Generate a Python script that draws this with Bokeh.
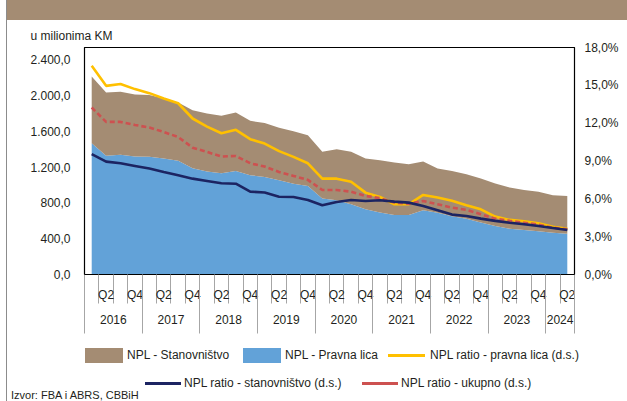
from bokeh.plotting import figure
from bokeh.models import (ColumnDataSource, Range1d, LinearAxis, FixedTicker,
                          Title, Div)
from bokeh.layouts import column
from bokeh.embed import file_html
from bokeh.resources import INLINE

# ---------------- data ----------------
years = ["2016", "2017", "2018", "2019", "2020", "2021", "2022", "2023", "2024"]
quarter_names = ["Q1", "Q2", "Q3", "Q4"]
shown_quarters = ["Q2", "Q4"]

# NPL, million KM (stacked)
pravna_lica = [1468, 1326, 1337, 1318, 1315, 1296, 1270, 1188, 1150, 1132,
               1158, 1110, 1091, 1054, 1013, 990, 848, 830, 785, 729,
               692, 666, 666, 718, 690, 650, 624, 580, 543, 512,
               498, 483, 468, 456]
stanovnistvo = [745, 708, 705, 694, 690, 671, 652, 649, 649, 641,
                652, 607, 601, 585, 589, 567, 523, 570, 586, 567,
                585, 585, 567, 544, 494, 508, 497, 492, 473, 459,
                447, 443, 418, 422]
# NPL ratios, % (right axis)
ratio_pravna = [16.55, 14.96, 15.10, 14.70, 14.38, 13.95, 13.58, 12.37, 11.73, 11.20,
                11.47, 10.73, 10.38, 9.78, 9.33, 8.82, 7.60, 7.60, 7.35, 6.49,
                6.15, 5.57, 5.57, 6.31, 6.10, 5.85, 5.50, 5.17, 4.59, 4.33,
                4.22, 4.06, 3.79, 3.63]
ratio_stan = [9.54, 8.95, 8.82, 8.61, 8.40, 8.13, 7.87, 7.60, 7.42, 7.24,
              7.20, 6.57, 6.50, 6.17, 6.15, 5.91, 5.49, 5.75, 5.91, 5.83,
              5.89, 5.78, 5.70, 5.44, 5.10, 4.75, 4.64, 4.43, 4.25, 4.11,
              3.98, 3.85, 3.69, 3.53]
ratio_ukupno = [13.24, 12.10, 12.10, 11.86, 11.65, 11.30, 10.90, 10.06, 9.72, 9.35,
                9.40, 8.82, 8.56, 8.13, 7.82, 7.50, 6.70, 6.70, 6.57, 6.23,
                6.05, 5.70, 5.62, 5.83, 5.57, 5.30, 5.12, 4.78, 4.43, 4.25,
                4.11, 3.95, 3.71, 3.58]

left_ticks = [0, 400, 800, 1200, 1600, 2000, 2400]
right_ticks = [0, 3, 6, 9, 12, 15, 18]

legend_labels = ["NPL - Stanovništvo", "NPL - Pravna lica",
                 "NPL ratio - pravna lica (d.s.)",
                 "NPL ratio - stanovništvo (d.s.)", "NPL ratio - ukupno (d.s.)"]
source_note = "Izvor: FBA i ABRS, CBBiH"

# ---------------- derived ----------------
n = len(pravna_lica)
periods = [(y, q) for y in years for q in quarter_names][:n]
xs = [i + 0.5 for i in range(n)]

source = ColumnDataSource(dict(x=xs, pravna=pravna_lica, stan=stanovnistvo,
                               rp=ratio_pravna, rs=ratio_stan, ru=ratio_ukupno))

FONT = "Liberation Sans"
TXT = "#231f20"
BROWN = "#a48c73"
BLUE = "#62a2d8"
YELLOW = "#ffc000"
NAVY = "#1c2462"
RED = "#cd5150"
SEP = "#a6a6a6"
FRAME_LINE = "#8c8c8c"

def fmt_left(v):
    s = f"{v:,.1f}"
    return s.replace(",", "X").replace(".", ",").replace("X", ".")

p = figure(width=620, height=316, x_range=Range1d(0, n), y_range=Range1d(0, 2537),
           output_backend="svg", toolbar_location=None, x_axis_location=None,
           min_border_left=77, min_border_right=53, min_border_top=27,
           min_border_bottom=62)
p.extra_y_ranges = {"pct": Range1d(0, 18)}
p.grid.visible = False
p.outline_line_color = "black"
p.outline_line_width = 1.2
p.margin = 0

# areas
areas = p.varea_stack(["pravna", "stan"], x="x", color=[BLUE, BROWN], source=source)
# ratio lines
l_rp = p.line("x", "rp", source=source, y_range_name="pct", color=YELLOW, line_width=2.6)
l_ru = p.line("x", "ru", source=source, y_range_name="pct", color=RED, line_width=2.6,
              line_dash="5 3")
l_rs = p.line("x", "rs", source=source, y_range_name="pct", color=NAVY, line_width=2.6)

# left axis
ya = p.yaxis[0]
ya.ticker = FixedTicker(ticks=left_ticks)
ya.major_label_overrides = {t: fmt_left(t) for t in left_ticks}
ya.major_tick_out = 0
ya.major_tick_in = 0
ya.minor_tick_line_color = None
ya.axis_line_color = "black"
ya.major_label_standoff = 14
ya.major_label_text_font = FONT
ya.major_label_text_font_size = "12px"
ya.major_label_text_color = TXT

# right axis
ra = LinearAxis(y_range_name="pct", ticker=FixedTicker(ticks=right_ticks),
                major_label_overrides={t: f"{t:.1f}".replace(".", ",") + "%" for t in right_ticks})
ra.major_tick_out = 0
ra.major_tick_in = 0
ra.minor_tick_line_color = None
ra.axis_line_color = "black"
ra.major_label_standoff = 10
ra.major_label_text_font = FONT
ra.major_label_text_font_size = "12px"
ra.major_label_text_color = TXT
p.add_layout(ra, "right")

# quarter axis
q_pos = [i + 0.5 for i, (y, q) in enumerate(periods) if q in shown_quarters]
q_lab = {i + 0.5: q for i, (y, q) in enumerate(periods) if q in shown_quarters}
qa = LinearAxis(ticker=FixedTicker(ticks=q_pos, minor_ticks=list(range(0, n + 1))),
                major_label_overrides=q_lab)
qa.axis_line_color = "black"
qa.major_tick_line_color = None
qa.major_tick_out = 0
qa.major_tick_in = 0
qa.minor_tick_line_color = SEP
qa.minor_tick_out = 29
qa.minor_tick_in = 0
qa.major_label_standoff = -16
qa.major_label_text_font = FONT
qa.major_label_text_font_size = "12px"
qa.major_label_text_color = TXT
p.add_layout(qa, "below")

# year axis
y_start = {}
y_end = {}
for i, (y, q) in enumerate(periods):
    y_start.setdefault(y, i)
    y_end[y] = i + 1
y_pos = [(y_start[y] + y_end[y]) / 2 for y in years]
y_bounds = sorted(set([y_start[y] for y in years] + [y_end[y] for y in years]))
ya2 = LinearAxis(ticker=FixedTicker(ticks=y_pos, minor_ticks=y_bounds),
                 major_label_overrides={(y_start[y] + y_end[y]) / 2: y for y in years})
ya2.axis_line_color = None
ya2.major_tick_line_color = None
ya2.major_tick_out = 0
ya2.major_tick_in = 0
ya2.minor_tick_line_color = SEP
ya2.minor_tick_in = 27
ya2.minor_tick_out = 29
ya2.major_label_standoff = -19
ya2.major_label_text_font = FONT
ya2.major_label_text_font_size = "12px"
ya2.major_label_text_color = TXT
p.add_layout(ya2, "below")

p.add_layout(Title(text="u milionima KM", align="left", offset=-54,
                   text_font=FONT, text_font_size="12px", text_font_style="normal",
                   text_color=TXT, standoff=10), "above")

# ---------------- legend + source (HTML block under the chart) ----------------
def swatch(left, top, w, h, color):
    return (f'<div style="position:absolute;left:{left}px;top:{top}px;width:{w}px;'
            f'height:{h}px;background:{color};"></div>')

def label(left, top, text, size=12):
    return (f'<div style="position:absolute;left:{left}px;top:{top}px;height:16px;'
            f'line-height:16px;white-space:nowrap;font-size:{size}px;">{text}</div>')

legend_html = (
    f'<div style="position:relative;width:620px;height:65px;font-family:\'{FONT}\';'
    f'color:{TXT};">'
    + swatch(78, 12, 38, 15, BROWN) + label(120, 11, legend_labels[0])
    + swatch(236, 12, 38, 15, BLUE) + label(278, 11, legend_labels[1])
    + swatch(381, 18, 37, 3, YELLOW) + label(423, 11, legend_labels[2])
    + swatch(138, 46, 36, 3, NAVY) + label(177, 39, legend_labels[3])
    + swatch(355, 46, 36, 3, RED) + label(394, 39, legend_labels[4])
    + label(4, 51, source_note, 11)
    + '</div>'
)
legend_div = Div(text=legend_html, width=620, height=65, margin=0)

band = Div(text="", width=620, height=20, margin=0,
           styles={"background-color": BROWN})
layout = column(band, p, legend_div, spacing=0, margin=(0, 0, 0, 6),
                styles={"border-left": f"1px solid {FRAME_LINE}"})

open("out.html", "w").write(file_html(layout, INLINE))
